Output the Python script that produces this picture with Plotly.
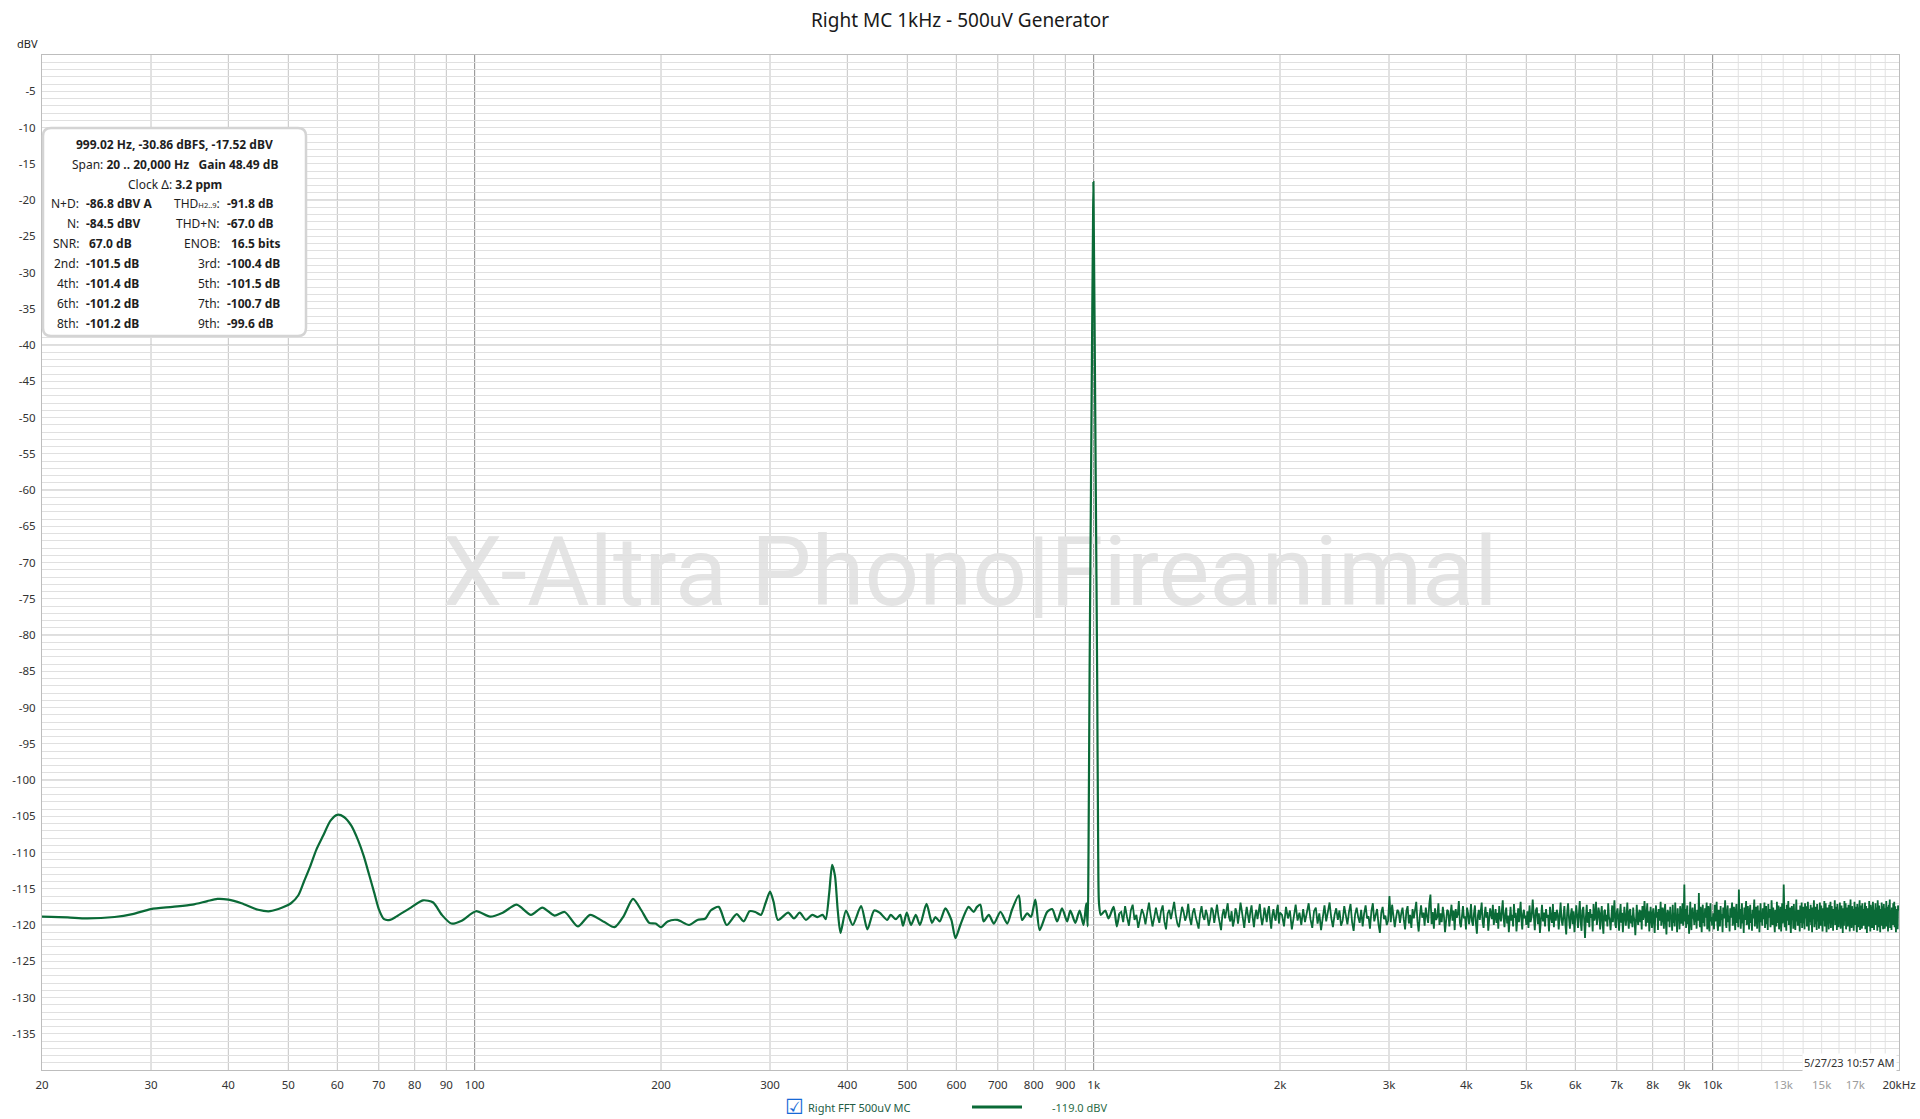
import numpy as np
import plotly.graph_objects as go

# ---------------- text ----------------
TITLE = "Right MC 1kHz - 500uV Generator"
SERIES_NAME = "Right FFT 500uV MC"
SERIES_READOUT = "-119.0 dBV"
TIMESTAMP = "5/27/23 10:57 AM"
WATERMARK = "X-Altra Phono|Fireanimal"
Y_UNIT = "dBV"

HEADER_LINES = [
    "<b>999.02 Hz, -30.86 dBFS, -17.52 dBV</b>",
    "Span: <b>20 .. 20,000 Hz</b>\u00a0\u00a0 <b>Gain 48.49 dB</b>",
    "Clock \u0394: <b>3.2 ppm</b>",
]
STATS_LEFT = [("N+D:", "-86.8 dBV A"), ("N:", "-84.5 dBV"), ("SNR:", "67.0 dB"),
              ("2nd:", "-101.5 dB"), ("4th:", "-101.4 dB"), ("6th:", "-101.2 dB"), ("8th:", "-101.2 dB")]
STATS_RIGHT = [("THD<span style='font-size:7.5px'>H2..9</span>:", "-91.8 dB"), ("THD+N:", "-67.0 dB"),
               ("ENOB:", "16.5 bits"), ("3rd:", "-100.4 dB"), ("5th:", "-101.5 dB"),
               ("7th:", "-100.7 dB"), ("9th:", "-99.6 dB")]

# ---------------- data: 20 Hz .. 1.1 kHz (read point by point) ----------------
LOW_F = [20, 22, 23.6, 26.2, 28, 30, 32.5, 35, 37, 38.4, 40, 42, 44.7, 46.7, 48.9, 50.5, 51.9, 53,
         54.3, 55.5, 56.9, 58.5, 60, 61.5, 63.2, 64.8, 66.2, 67.5, 68.8, 70, 71.4, 73, 74.7, 78.5,
         82.5, 85.7, 88.5, 91.7, 95.3, 100.5, 105.9, 111, 116.9, 123.3, 128.6, 134.6, 139.8, 146.8,
         153.6, 162, 168.3, 174, 180.2, 186, 191.4, 196, 200, 205, 212.6, 222, 229, 236, 240.6,
         247.9, 255.4, 265, 272, 278, 284, 290, 295, 300, 304, 309, 321, 328, 335, 343, 351, 358,
         365, 369, 374, 378, 382, 386, 390, 398, 408, 421, 431, 442, 451, 464, 470, 479, 487, 492,
         499, 507, 516, 524, 537, 548, 555, 564, 576, 589, 598, 609, 628, 640, 648, 656, 664, 677,
         690, 707, 725, 738, 757, 766, 781, 792, 805, 818, 841, 857, 873, 889, 906, 917, 934, 949,
         963, 973, 978, 981, 985, 990, 995, 997.5, 999.02, 1000.5, 1003, 1008, 1013, 1017, 1020,
         1027, 1044, 1057, 1077, 1090, 1100]
LOW_DB = [-118.85, -118.95, -119.1, -118.9, -118.5, -117.8, -117.5, -117.2, -116.7, -116.4, -116.5,
          -117.0, -117.9, -118.1, -117.6, -117.0, -115.9, -114.0, -111.8, -109.6, -107.7, -105.6,
          -104.8, -105.1, -106.3, -108.3, -110.5, -113.0, -115.5, -117.8, -119.2, -119.3, -118.85,
          -117.7, -116.6, -116.9, -118.6, -119.8, -119.4, -118.1, -118.85, -118.3, -117.2, -118.6,
          -117.6, -118.7, -118.2, -120.2, -118.6, -119.6, -120.3, -118.8, -116.4, -118.0, -119.7,
          -119.8, -120.3, -119.5, -119.3, -120.0, -119.3, -119.1, -118.0, -117.5, -120.0, -118.5,
          -119.5, -118.1, -118.2, -118.6, -117.0, -115.4, -116.8, -119.3, -118.3, -119.1, -118.3,
          -119.3, -118.6, -118.9, -118.6, -119.2, -115.5, -111.7, -113.2, -118.0, -121.1, -118.0,
          -120.0, -117.4, -120.6, -118.0, -118.3, -119.3, -118.6, -119.2, -118.6, -120.1, -118.3,
          -120.0, -118.6, -120.0, -117.1, -119.7, -118.9, -119.5, -117.7, -119.3, -121.8, -120.0,
          -117.5, -118.2, -117.5, -117.2, -119.5, -118.6, -119.8, -118.2, -119.8, -117.9, -115.9,
          -119.3, -118.4, -118.9, -116.5, -120.7, -118.2, -117.8, -119.5, -117.7, -119.5, -118.0,
          -119.7, -118.0, -120.0, -117.0, -120.2, -110.0, -85.0, -60.0, -35.0, -24.0, -17.52,
          -24.0, -35.0, -60.0, -85.0, -110.0, -117.0, -118.6, -118.0, -119.1, -117.5, -120.2, -118.4]

# ---------------- data: noise floor above 1.1 kHz (FFT bins, even spacing per span) --------
NOISE_A_SPAN = (1108, 2000)
NOISE_A_DB = [
    -118.2, -119.6, -117.4, -118.9, -120.1, -118.0, -117.2, -119.3, -118.6, -120.4, -119.1, -117.8, -118.5, -119.9, -118.3, -116.9, -118.7, -120.2, -119.0, -117.6,
    -118.8, -119.7, -118.1, -117.3, -119.5, -120.6, -118.4, -117.9, -119.2, -118.0, -116.8, -118.6, -119.8, -120.3, -118.9, -117.5, -118.2, -119.4, -118.7, -117.1,
    -119.0, -120.0, -118.3, -117.7, -118.9, -119.6, -120.5, -118.5, -117.4, -118.8, -119.3, -117.9, -118.6, -120.1, -119.2, -117.6, -118.0, -119.7, -118.4, -117.2,
    -118.7, -119.9, -120.7, -118.6, -117.8, -119.1, -118.2, -117.0, -118.9, -119.5, -118.1, -120.2, -119.4, -117.7, -118.3, -119.8, -118.5, -116.9, -118.0, -119.3,
    -120.4, -118.8, -117.5, -118.6, -119.7, -118.2, -117.3, -119.0, -120.3, -118.7, -117.9, -119.2, -118.4, -117.1, -118.9, -120.0, -119.1, -117.6, -118.5, -119.6,
    -118.1, -117.4, -119.3, -120.5, -118.6, -117.8, -118.9, -119.4, -118.0, -117.2, -119.8, -118.3]
NOISE_B_SPAN = (2015, 5000)
NOISE_B_DB = [
    -118.6, -120.2, -117.5, -119.1, -118.0, -120.6, -118.9, -117.2, -119.4, -118.3, -120.0, -117.8, -119.6, -118.5, -117.0, -119.2, -120.4, -118.1, -117.6, -119.8,
    -118.4, -120.7, -118.8, -117.3, -119.5, -118.2, -116.9, -119.0, -120.3, -118.6, -117.7, -119.3, -118.0, -120.1, -119.4, -117.4, -118.7, -119.9, -118.2, -117.1,
    -119.6, -120.8, -118.5, -117.6, -118.9, -119.7, -117.9, -120.2, -118.4, -117.3, -119.1, -118.8, -120.5, -118.1, -117.0, -119.5, -118.6, -117.8, -119.9, -121.1,
    -118.3, -117.5, -119.2, -118.7, -120.0, -119.4, -116.0, -119.6, -117.2, -118.5, -120.3, -119.0, -117.9, -118.2, -119.7, -118.4, -117.6, -119.3, -120.6, -118.1,
    -117.4, -119.8, -118.6, -120.4, -117.8, -119.1, -118.0, -116.8, -119.5, -120.9, -118.7, -117.3, -119.0, -118.3, -120.1, -117.6, -118.8, -119.7, -117.1, -115.8,
    -119.9, -118.2, -120.5, -117.7, -119.3, -118.9, -117.0, -120.0, -118.4, -119.6, -117.5, -118.7, -121.0, -119.2, -117.9, -118.1, -120.2, -118.6, -117.2, -119.4,
    -118.0, -120.7, -117.8, -119.0, -118.5, -116.7, -119.7, -120.3, -118.2, -117.4, -119.1, -118.8, -120.6, -117.6, -118.3, -119.9, -118.9, -117.1, -119.5, -120.1,
    -118.4, -117.3, -119.8, -121.2, -118.7, -117.9, -119.3, -118.1, -116.9, -119.6, -120.4, -118.6, -117.5, -119.0, -118.2, -120.8, -119.4, -117.7, -118.5, -119.2,
    -117.2, -120.0, -118.9, -117.8, -119.7, -118.3, -120.5, -117.4, -118.8, -119.5, -118.0, -116.6, -119.1, -120.3, -118.4, -117.6, -119.8, -118.7, -121.0, -118.2,
    -117.5, -119.4, -118.6, -120.2, -117.1, -119.0, -118.3, -120.9, -118.9, -117.7, -119.6, -118.1, -116.8, -119.3, -120.6, -118.5, -117.9, -119.1, -118.7, -120.0]
NOISE_C_SPAN = (5020, 10000)
NOISE_C_DB = [
    -118.1, -120.4, -117.3, -119.6, -118.8, -116.5, -119.2, -120.7, -118.0, -117.6, -119.9, -118.4, -121.1, -118.7, -117.2, -119.5, -118.3, -120.2, -117.8, -119.0,
    -118.6, -120.9, -117.5, -118.9, -119.7, -117.1, -120.3, -118.2, -119.4, -117.9, -118.5, -120.6, -118.0, -116.9, -119.3, -120.1, -118.8, -117.4, -119.8, -121.3,
    -118.3, -117.0, -119.1, -120.5, -118.6, -117.7, -119.9, -118.1, -121.0, -119.2, -117.3, -118.7, -120.4, -118.4, -116.7, -119.6, -120.8, -118.0, -117.5, -119.3,
    -121.8, -118.9, -117.2, -119.7, -118.2, -120.3, -117.8, -119.0, -118.5, -120.9, -117.1, -119.4, -118.8, -116.8, -120.0, -119.1, -117.6, -118.3, -120.6, -118.7,
    -117.4, -119.8, -121.2, -118.1, -117.9, -119.5, -118.6, -120.2, -117.0, -118.9, -119.3, -120.7, -118.4, -117.3, -119.6, -118.0, -116.6, -119.9, -120.4, -118.2,
    -117.7, -119.2, -120.8, -118.5, -117.1, -119.7, -118.3, -121.0, -118.8, -117.5, -119.0, -120.1, -118.6, -116.9, -119.4, -120.5, -118.1, -117.8, -119.8, -118.7,
    -120.3, -117.6, -118.9, -119.5, -121.4, -118.2, -117.2, -119.1, -120.0, -118.4, -117.9, -119.6, -118.0, -120.6, -117.4, -119.3, -118.7, -116.7, -119.9, -120.2,
    -118.5, -117.0, -119.7, -118.1, -120.9, -118.8, -117.5, -119.2, -120.4, -118.3, -117.7, -119.8, -121.1, -118.6, -117.3, -119.0, -118.2, -120.7, -117.8, -119.4,
    -118.9, -116.8, -120.1, -119.3, -117.6, -118.4, -120.5, -118.0, -117.1, -119.6, -121.3, -118.7, -117.9, -119.5, -118.1, -120.3, -117.5, -119.1, -118.6, -120.8,
    -117.2, -119.7, -118.3, -120.2, -116.9, -119.0, -118.8, -121.0, -117.7, -119.4, -118.5, -120.6, -117.4, -118.9, -119.8, -118.2, -117.0, -120.1, -118.7, -114.4,
    -119.5, -117.8, -120.4, -118.1, -117.3, -119.9, -118.6, -121.2, -118.0, -116.8, -119.3, -120.7, -118.4, -117.6, -119.1, -118.9, -120.0, -117.1, -119.6, -118.3,
    -120.5, -117.9, -118.7, -119.4, -115.6, -119.2, -120.3, -117.5, -118.8, -121.0, -118.1, -117.2, -119.7, -118.5, -120.2, -117.7, -119.0, -118.3, -116.9, -120.6,
    -118.6, -117.4, -119.8, -120.9, -118.2, -117.0, -119.5, -118.9, -120.1, -118.4]
NOISE_D_SPAN = (10025, 20000)
NOISE_D_DB = [
    -118.4, -120.6, -117.2, -119.5, -118.0, -116.8, -119.9, -120.8, -117.9, -118.7, -120.2, -117.4, -119.3, -118.5, -121.0, -117.6, -119.1, -118.2, -116.6, -119.8,
    -120.4, -118.1, -117.3, -119.6, -118.8, -120.9, -117.7, -119.0, -118.3, -116.9, -120.1, -119.4, -117.5, -118.6, -120.7, -118.0, -117.1, -119.7, -118.9, -120.3,
    -115.1, -119.2, -117.8, -120.5, -118.4, -117.0, -119.8, -118.6, -121.1, -117.6, -119.3, -118.1, -116.7, -120.0, -119.5, -117.4, -118.9, -120.6, -118.2, -117.2,
    -119.7, -118.5, -120.8, -117.9, -119.1, -118.3, -116.5, -120.2, -119.0, -117.5, -118.7, -120.5, -117.3, -119.4, -118.0, -121.0, -118.8, -117.0, -119.6, -118.4,
    -120.1, -117.7, -119.2, -118.6, -116.9, -120.4, -118.2, -117.4, -119.9, -118.9, -120.7, -117.1, -119.0, -118.1, -117.8, -120.3, -119.5, -116.6, -118.5, -120.0,
    -117.6, -119.3, -118.7, -121.0, -117.9, -118.3, -120.2, -116.8, -119.7, -118.0, -117.3, -120.6, -118.8, -119.1, -117.5, -120.9, -118.4, -117.0, -119.8, -118.6,
    -114.4, -119.6, -120.3, -117.8, -118.9, -120.8, -117.2, -119.4, -118.1, -116.7, -120.0, -118.5, -117.6, -119.9, -121.1, -118.3, -117.4, -119.2, -118.7, -120.5,
    -117.1, -119.0, -118.4, -120.7, -117.7, -116.5, -119.5, -118.2, -120.1, -117.9, -119.3, -118.8, -120.9, -117.3, -118.6, -119.7, -116.9, -120.4, -118.0, -117.5,
    -119.8, -118.3, -120.6, -117.0, -119.1, -118.7, -117.4, -120.2, -119.4, -116.8, -118.1, -120.8, -117.8, -119.6, -118.5, -117.2, -120.0, -118.9, -121.0, -117.6,
    -119.2, -118.0, -116.6, -120.3, -118.6, -117.5, -119.9, -118.2, -120.7, -117.1, -119.5, -118.4, -117.9, -120.5, -119.0, -116.9, -118.7, -120.1, -117.3, -119.3,
    -118.1, -120.9, -117.7, -119.4, -118.8, -116.7, -120.2, -118.5, -117.0, -119.7, -121.0, -118.3, -117.6, -119.1, -118.9, -120.6, -117.2, -119.8, -118.0, -116.8,
    -120.4, -118.6, -117.4, -119.5, -118.2, -120.8, -117.8, -119.0, -118.7, -116.6, -120.0, -119.3, -117.5, -118.4, -120.7, -117.1, -119.6, -118.1, -120.3, -117.9,
    -118.8, -116.9, -119.9, -120.5, -118.0, -117.3, -119.2, -118.6, -121.1, -117.7, -118.3, -120.1, -116.7, -119.4, -118.9, -117.0, -120.6, -118.5, -119.7, -117.6,
    -120.2, -118.1, -117.2, -119.8, -118.4, -120.9, -117.9, -116.5, -119.3, -118.7, -120.4, -117.4, -119.0, -118.2, -117.8, -120.8, -119.5, -116.8, -118.6, -120.0,
    -117.5, -119.6, -118.3, -121.0, -117.1, -118.9, -120.3, -117.6, -119.1, -118.0, -116.6, -120.7, -118.8, -117.3, -119.9, -118.4, -120.5, -117.0, -119.2, -118.6,
    -120.1, -117.8, -119.4, -118.5, -116.9, -120.6, -118.1, -117.4, -119.7, -121.1, -118.2, -117.7, -119.0, -118.7, -120.2, -116.7, -119.5, -118.3, -120.9, -117.2,
    -118.9, -119.8, -117.5, -120.4, -118.0, -116.8, -119.3, -118.6, -120.7, -117.9, -119.1, -118.2, -117.0, -120.0, -119.6, -117.6, -118.4, -120.8, -116.6, -119.2,
    -118.7, -120.3, -117.3, -119.5, -118.1, -121.0, -117.8, -118.9, -120.1, -116.9, -119.7, -118.5, -117.4, -120.6, -118.3, -117.1, -119.9, -118.0, -120.5, -117.7,
    -119.4, -118.6, -116.7, -120.2, -118.8, -117.5, -119.0, -120.9, -118.2, -117.2, -119.6, -118.4, -116.5, -120.4, -119.1, -117.9, -118.7, -120.7, -117.6, -119.3,
    -118.1, -120.0, -117.0, -119.8, -118.5, -116.8, -120.3, -118.9, -117.4, -119.5, -121.0, -118.3, -117.8, -119.2, -118.6, -120.6, -117.3, -119.7, -118.0, -117.5]

# ---------------- axes ----------------
X_TICK_VALS = [20, 30, 40, 50, 60, 70, 80, 90, 100, 200, 300, 400, 500, 600, 700, 800, 900,
               1000, 2000, 3000, 4000, 5000, 6000, 7000, 8000, 9000, 10000, 13000, 15000, 17000, 20000]
X_TICK_TEXT = ["20", "30", "40", "50", "60", "70", "80", "90", "100", "200", "300", "400", "500",
               "600", "700", "800", "900", "1k", "2k", "3k", "4k", "5k", "6k", "7k", "8k", "9k",
               "10k", "13k", "15k", "17k", "20kHz"]
X_DIM_LABELS = ["13k", "15k", "17k"]
Y_TICK_VALS = list(range(-135, 0, 5))
Y_TICK_TEXT = [str(v) for v in Y_TICK_VALS]
X_RANGE = (20, 20000)
Y_RANGE = (-140, 0)

GRID_X_REGULAR = [30, 40, 50, 60, 70, 80, 90, 200, 300, 400, 500, 600, 700, 800, 900,
                  2000, 3000, 4000, 5000, 6000, 7000, 8000, 9000]
GRID_X_DECADE = [100, 1000, 10000]
GRID_X_LIGHT = [11000, 12000, 13000, 14000, 15000, 16000, 17000, 18000, 19000]
GRID_Y_MAJOR = list(range(-130, 0, 10))

# ---------------- styling / layout helpers ----------------
GREEN = "#0a6a37"
FONT = "Noto Sans"
W, H = 1920, 1119
ML, MR, MT, MB = 42, 21, 55, 49
PW, PH = W - ML - MR, H - MT - MB


def fx(px):
    return (px - ML) / PW


def fy(py):
    return 1 - (py - MT) / PH


def build_noise(span, vals):
    return np.linspace(span[0], span[1], len(vals)), np.asarray(vals)


segs = [build_noise(NOISE_A_SPAN, NOISE_A_DB), build_noise(NOISE_B_SPAN, NOISE_B_DB),
        build_noise(NOISE_C_SPAN, NOISE_C_DB), build_noise(NOISE_D_SPAN, NOISE_D_DB)]
hi_f = np.concatenate([[LOW_F[-1]]] + [s[0] for s in segs])
hi_db = np.concatenate([[LOW_DB[-1]]] + [s[1] for s in segs])

fig = go.Figure()
fig.add_trace(go.Scatter(x=LOW_F, y=LOW_DB, mode="lines", name=SERIES_NAME, showlegend=False,
                         line=dict(color=GREEN, width=2.2, shape="spline", smoothing=0.7)))
fig.add_trace(go.Scatter(x=hi_f, y=hi_db, mode="lines", name=SERIES_NAME, showlegend=False,
                         line=dict(color=GREEN, width=1.8)))

ticktext = [f"<span style='color:#9c9c9c'>{t}</span>" if t in X_DIM_LABELS else t for t in X_TICK_TEXT]

shapes = []
for v in GRID_X_LIGHT:
    shapes.append(dict(type="line", xref="x", yref="paper", x0=v, x1=v, y0=0, y1=1,
                       line=dict(color="#e2e2e2", width=1), layer="between"))
for v in GRID_X_REGULAR:
    shapes.append(dict(type="line", xref="x", yref="paper", x0=v, x1=v, y0=0, y1=1,
                       line=dict(color="#c4c4c4", width=1), layer="between"))
for v in GRID_Y_MAJOR:
    shapes.append(dict(type="line", xref="paper", yref="y", x0=0, x1=1, y0=v, y1=v,
                       line=dict(color="#bdbdbd", width=1), layer="between"))
for v in GRID_X_DECADE:
    shapes.append(dict(type="line", xref="x", yref="paper", x0=v, x1=v, y0=0, y1=1,
                       line=dict(color="#8a8a8a", width=1), layer="between"))

# watermark (beneath the grid)
shapes.append(dict(type="rect", xref="paper", yref="paper", x0=fx(400), x1=fx(1540),
                   y0=fy(625), y1=fy(505), line=dict(width=0), fillcolor="rgba(0,0,0,0)",
                   layer="below",
                   label=dict(text=WATERMARK, textposition="middle center",
                              font=dict(size=96, color="#e4e4e4", family="Roboto"))))

# readout box with rounded corners
bx0, bx1, by0, by1 = fx(43), fx(306), fy(336), fy(128)
rx, ry = 8 / PW, 8 / PH
box_path = (f"M {bx0 + rx},{by1} L {bx1 - rx},{by1} Q {bx1},{by1} {bx1},{by1 - ry} "
            f"L {bx1},{by0 + ry} Q {bx1},{by0} {bx1 - rx},{by0} L {bx0 + rx},{by0} "
            f"Q {bx0},{by0} {bx0},{by0 + ry} L {bx0},{by1 - ry} Q {bx0},{by1} {bx0 + rx},{by1} Z")
shapes.append(dict(type="path", xref="paper", yref="paper", path=box_path, fillcolor="white",
                   line=dict(color="#d4d4d4", width=2.5), layer="above"))

# legend line sample
shapes.append(dict(type="line", xref="paper", yref="paper", x0=fx(972), x1=fx(1022),
                   y0=fy(1107), y1=fy(1107), line=dict(color=GREEN, width=3), layer="above"))

annotations = []


def add_text(text, x, y, anchor="center", size=11, color="#1e1e1e", family=FONT, **kw):
    annotations.append(dict(text=text, xref="paper", yref="paper", x=fx(x), y=fy(y),
                            xanchor=anchor, yanchor="middle", showarrow=False,
                            font=dict(size=size, color=color, family=family), **kw))


BOX_FS = 12
add_text(TITLE, 960, 20, size=19, color="#1a1a1a")
add_text(Y_UNIT, 27, 44, size=11, color="#222")

header_y = [144, 164.5, 184]
for line, y in zip(HEADER_LINES, header_y):
    add_text(line, 174.5, y, size=BOX_FS)

row_y = [204, 223.5, 243.5, 263.5, 283.5, 303.5, 323.5]
left_val_x = [84, 84, 87, 84, 84, 84, 84]
for (lab, val), vx, y in zip(STATS_LEFT, left_val_x, row_y):
    add_text(lab, 80.5, y, anchor="right", size=BOX_FS)
    add_text(f"<b>{val}</b>", vx, y, anchor="left", size=BOX_FS)
right_val_x = [225, 225, 229, 225, 225, 225, 225]
for (lab, val), vx, y in zip(STATS_RIGHT, right_val_x, row_y):
    add_text(lab, 222, y, anchor="right", size=BOX_FS)
    add_text(f"<b>{val}</b>", vx, y, anchor="left", size=BOX_FS)

add_text(TIMESTAMP, 1897, 1062, anchor="right", size=11, color="#333", bgcolor="white")

add_text("\u2611", 794, 1107, size=21, color="#1769d6", family="DejaVu Sans")
add_text(SERIES_NAME, 806, 1107, anchor="left", size=11, color="#235c44")
add_text(SERIES_READOUT, 1050, 1107, anchor="left", size=11, color="#2a6c46")

axis_font = dict(size=11.5, color="#333", family=FONT)
fig.update_layout(
    width=W, height=H,
    margin=dict(l=ML, r=MR, t=MT, b=MB, pad=0, autoexpand=False),
    paper_bgcolor="white", plot_bgcolor="white",
    showlegend=False,
    xaxis=dict(type="log", range=[np.log10(X_RANGE[0]), np.log10(X_RANGE[1])], automargin=False,
               tickmode="array", tickvals=X_TICK_VALS, ticktext=ticktext, tickfont=axis_font,
               showgrid=False, zeroline=False, showline=True, mirror=True,
               linecolor="#bdbdbd", linewidth=1, ticks="", ticklabelstandoff=4),
    yaxis=dict(range=list(Y_RANGE), automargin=False, tickmode="array", tickvals=Y_TICK_VALS,
               ticktext=Y_TICK_TEXT, tickfont=axis_font, showgrid=True, gridcolor="#e0e0e0",
               gridwidth=1,
               minor=dict(dtick=1, tick0=0, showgrid=True, gridcolor="#e0e0e0", gridwidth=1),
               zeroline=False, showline=True, mirror=True, linecolor="#bdbdbd", linewidth=1,
               ticks="", ticklabelstandoff=3),
    shapes=shapes,
    annotations=annotations,
)

fig.write_html("out.html", config={"displayModeBar": False},
               post_script="document.body.style.margin='0';document.body.style.overflow='hidden';")
